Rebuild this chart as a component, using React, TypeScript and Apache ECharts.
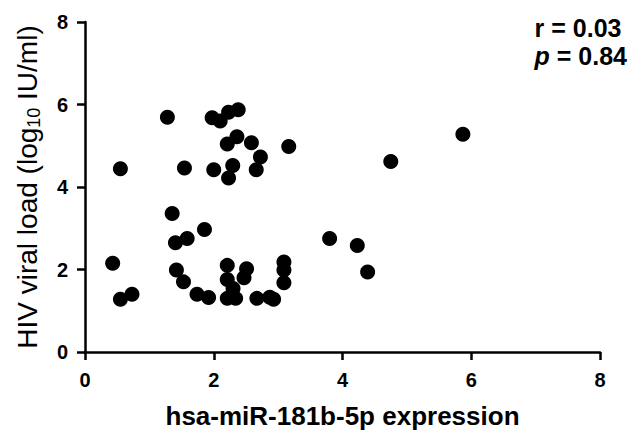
import React, { useEffect, useRef } from "react";
import * as echarts from "echarts";

const expression: number[] = [
  1.28, 0.55, 1.545, 1.975, 2.1, 2.23, 2.38, 2.21, 2.36, 2.585, 2.725, 2.66, 3.165, 2.0, 2.295, 2.23,
  1.354, 1.405, 1.587, 1.856, 0.43, 0.55, 0.73, 1.42, 1.53, 1.74, 1.92, 2.21, 2.21, 2.3, 2.51, 2.47,
  2.21, 2.34, 2.67, 2.87, 2.93, 3.09, 3.09, 3.09, 3.8, 5.87, 4.75, 4.23, 4.39,
];
const viralLoad: number[] = [
  5.69, 4.44, 4.46, 5.68, 5.6, 5.81, 5.87, 5.04, 5.22, 5.07, 4.73, 4.42, 4.98, 4.42, 4.52, 4.22,
  3.36, 2.65, 2.75, 2.97, 2.15, 1.28, 1.4, 1.99, 1.7, 1.4, 1.32, 2.1, 1.76, 1.54, 2.02, 1.8,
  1.3, 1.3, 1.3, 1.33, 1.28, 2.18, 1.99, 1.68, 2.75, 5.28, 4.62, 2.58, 1.94,
];
const xTicks = [0, 2, 4, 6, 8];
const yTicks = [0, 2, 4, 6, 8];
const statLines = ["r = 0.03", "{i|p} = 0.84"];

export default function App() {
  const ref = useRef<HTMLDivElement>(null);
  useEffect(() => {
    if (!ref.current) return;
    const chart = echarts.init(ref.current, undefined, { renderer: "svg" });
    const font = "Liberation Sans, Arial, sans-serif";
    const axisCommon = {
      min: 0,
      max: 8,
      interval: 2,
      splitLine: { show: false },
      axisLine: { show: true, lineStyle: { color: "#000", width: 2.5 } },
      axisTick: { show: true, length: 8, lineStyle: { color: "#000", width: 2.5 } },
    };
    chart.setOption({
      animation: false,
      backgroundColor: "#fff",
      grid: { left: 85, right: 33, top: 22, bottom: 81, containLabel: false },
      xAxis: {
        type: "value",
        ...axisCommon,
        axisLabel: {
          color: "#000",
          fontFamily: font,
          fontWeight: "bold",
          fontSize: 20,
          margin: 18,
          formatter: (v: number) => (xTicks.includes(v) ? String(v) : ""),
        },
        name: "hsa-miR-181b-5p expression",
        nameLocation: "middle",
        nameGap: 51,
        nameTextStyle: { color: "#000", fontFamily: font, fontWeight: "bold", fontSize: 26 },
      },
      yAxis: {
        type: "value",
        ...axisCommon,
        axisLabel: {
          color: "#000",
          fontFamily: font,
          fontWeight: "bold",
          fontSize: 20,
          margin: 17,
          formatter: (v: number) => (yTicks.includes(v) ? String(v) : ""),
        },
        name: "HIV viral load (log{sub|10} IU/ml)",
        nameLocation: "middle",
        nameGap: 42,
        nameTextStyle: {
          color: "#000",
          fontFamily: font,
          fontSize: 28,
          rich: {
            sub: { fontFamily: font, fontSize: 18, color: "#000", verticalAlign: "bottom", padding: [13, 0, 0, 0] },
          },
        },
      },
      graphic: [
        {
          type: "text",
          right: 6,
          top: 14,
          style: {
            text: statLines.join("\n"),
            fill: "#000",
            font: `bold 25px ${font}`,
            align: "right",
            lineHeight: 28,
            rich: {
              i: { fontStyle: "italic", fontWeight: "bold", fontSize: 25, fontFamily: font, fill: "#000" },
            },
          } as any,
        },
      ],
      series: [
        {
          type: "scatter",
          symbol: "circle",
          symbolSize: 15,
          itemStyle: { color: "#000", opacity: 1 },
          data: expression.map((x, i) => [x, viralLoad[i]]),
        },
      ],
    });
    return () => chart.dispose();
  }, []);
  return <div ref={ref} style={{ width: 633, height: 434, position: "absolute", left: 0, top: 0 }} />;
}
